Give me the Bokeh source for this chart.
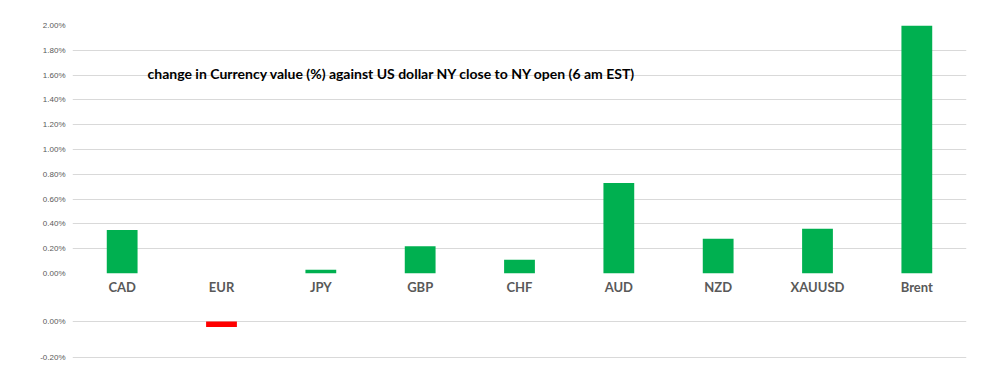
from bokeh.plotting import figure
from bokeh.layouts import column
from bokeh.models import ColumnDataSource, Range1d, FactorRange, FixedTicker, PrintfTickFormatter, Label
from bokeh.embed import file_html
from bokeh.resources import INLINE

categories = ["CAD", "EUR", "JPY", "GBP", "CHF", "AUD", "NZD", "XAUUSD", "Brent"]
values = [0.35, -0.03, 0.03, 0.22, 0.11, 0.73, 0.28, 0.36, 2.00]
top_ticks = [0.0, 0.2, 0.4, 0.6, 0.8, 1.0, 1.2, 1.4, 1.6, 1.8, 2.0]
bottom_ticks = [-0.2, 0.0]
title_text = "change in Currency value (%)  against US dollar NY  close to NY open (6 am EST)"

pos = [(c, v) for c, v in zip(categories, values) if v > 0]
neg = [(c, v) for c, v in zip(categories, values) if v < 0]
src_pos = ColumnDataSource(dict(cat=[c for c, _ in pos], val=[v for _, v in pos]))
src_neg = ColumnDataSource(dict(cat=[c for c, _ in neg], val=[v for _, v in neg]))

GREEN = "#00b050"
RED = "#ff0000"
GRID = "#d9d9d9"
LABEL = "#595959"

def style(p, ticks):
    p.outline_line_color = None
    p.background_fill_color = "white"
    p.border_fill_color = "white"
    p.xgrid.grid_line_color = None
    p.ygrid.grid_line_color = GRID
    p.ygrid.grid_line_width = 1
    p.yaxis.ticker = FixedTicker(ticks=ticks)
    p.yaxis.formatter = PrintfTickFormatter(format="%.2f%%")
    p.yaxis.axis_line_color = None
    p.yaxis.major_tick_line_color = None
    p.yaxis.minor_tick_line_color = None
    p.yaxis.major_tick_out = 0
    p.yaxis.minor_tick_out = 0
    p.yaxis.major_label_standoff = 7
    p.yaxis.major_label_text_font = "Liberation Sans"
    p.yaxis.major_label_text_font_size = "8px"
    p.yaxis.major_label_text_color = LABEL

x_range = FactorRange(factors=categories)

p1 = figure(x_range=x_range, y_range=Range1d(0, 2.0), width=1002, height=300,
            output_backend="svg", toolbar_location=None,
            min_border_left=72, min_border_right=36, min_border_top=25, min_border_bottom=27)
style(p1, top_ticks)
p1.vbar(x="cat", top="val", bottom=0, width=0.31, fill_color=GREEN, line_color=None, source=src_pos)
p1.xaxis.axis_line_color = None
p1.xaxis.major_tick_line_color = None
p1.xaxis.minor_tick_line_color = None
p1.xaxis.major_tick_out = 0
p1.xaxis.minor_tick_out = 0
p1.xaxis.major_label_standoff = 5
p1.xaxis.major_label_text_font = "Lato"
p1.xaxis.major_label_text_font_style = "bold"
p1.xaxis.major_label_text_font_size = "13px"
p1.xaxis.major_label_text_color = LABEL
p1.add_layout(Label(x=3.25, y=1.613, text=title_text, text_align="center", text_baseline="middle",
                    text_font="Lato", text_font_style="bold", text_font_size="14px",
                    text_color="black"))

p2 = figure(x_range=x_range, y_range=Range1d(-0.2111, 0.0111), width=1002, height=76,
            output_backend="svg", toolbar_location=None,
            min_border_left=72, min_border_right=36, min_border_top=19, min_border_bottom=17)
style(p2, bottom_ticks)
p2.vbar(x="cat", top="val", bottom=0, width=0.31, fill_color=RED, line_color=None, source=src_neg)
p2.xaxis.visible = False

layout = column(p1, p2, spacing=0)
open("out.html", "w").write(file_html(layout, INLINE))
